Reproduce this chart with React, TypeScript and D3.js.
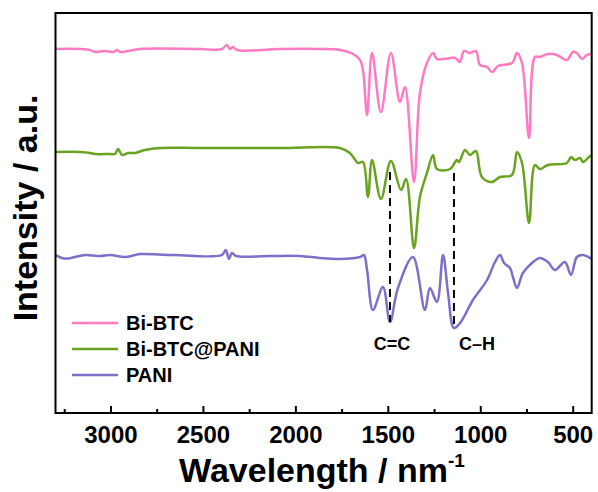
import React, { useEffect } from "react";
import * as d3 from "d3";

// wavenumber (cm-1), relative intensity (a.u.)
const biBtc: [number, number][] = [
  [3300, 91], [3167, 91], [3113, 90.75], [3086, 90.25], [3032, 90.5], [2989, 90.25], [2967, 90.75],
  [2951, 90.25], [2908, 90.5], [2843, 91], [2519, 91], [2400, 91], [2373, 92], [2356, 91], [2340, 91.5],
  [2318, 90.75], [2086, 91], [1870, 91], [1762, 90.75], [1691, 89.75], [1653, 88.25], [1637, 85.75],
  [1615, 74.5], [1588, 90], [1540, 75.25], [1486, 90], [1437, 77.75], [1410, 81.5], [1361, 57.75],
  [1329, 80], [1291, 87.5], [1258, 90], [1237, 88.5], [1204, 88.5], [1139, 88.75], [1112, 87.75],
  [1091, 90.5], [1058, 90], [1026, 90.5], [1004, 87], [966, 86.5], [939, 85.25], [907, 86.75],
  [831, 87.5], [804, 90], [777, 87.5], [739, 68.75], [707, 89], [680, 89], [637, 89.75], [588, 89.5],
  [534, 88.25], [502, 90.25], [480, 90], [453, 88.5], [426, 89.5], [400, 89.75],
];

const biBtcPani: [number, number][] = [
  [3300, 65.25], [3167, 65.25], [3113, 65], [3086, 64.75], [3005, 64.75], [2978, 64.75], [2962, 66],
  [2940, 64.5], [2908, 65], [2870, 65], [2816, 65.75], [2735, 66.25], [2519, 66.25], [2086, 66.25],
  [1762, 66.25], [1708, 65], [1663, 62.5], [1637, 62.75], [1610, 54], [1588, 63.25], [1540, 53.5],
  [1486, 63], [1431, 55.75], [1404, 58.5], [1361, 41.25], [1329, 54], [1291, 60], [1258, 64.5],
  [1237, 61], [1166, 61], [1129, 63.25], [1118, 62.75], [1085, 65.75], [1058, 64.5], [1026, 65.5],
  [994, 59], [939, 57.75], [896, 59], [831, 59.5], [804, 65.25], [777, 62.5], [739, 47.5], [707, 62],
  [680, 61], [637, 62], [534, 62.5], [512, 64], [491, 63.25], [463, 63.75], [447, 62.75], [409, 64.25],
  [400, 64.5],
];

const pani: [number, number][] = [
  [3300, 39.5], [3265, 38.75], [3238, 38.6], [3195, 39], [3140, 39.5], [3059, 39.25], [3005, 39.5],
  [2924, 39], [2870, 39.5], [2843, 39.75], [2654, 39.5], [2400, 39.5], [2379, 40.75], [2362, 38.5],
  [2346, 40], [2324, 39.25], [2140, 39.25], [1978, 39.25], [1870, 38.75], [1762, 38.5], [1653, 39],
  [1632, 39.5], [1615, 35.75], [1583, 25.75], [1529, 31.5], [1491, 22.75], [1448, 31.25], [1367, 39],
  [1302, 25.75], [1275, 31.25], [1237, 27.75], [1204, 39.5], [1177, 30], [1145, 21.25], [1112, 22.5],
  [1042, 28.25], [966, 33.25], [923, 37.75], [896, 39.5], [874, 37.5], [842, 36.25], [826, 34],
  [804, 31.25], [772, 35], [723, 37.5], [680, 38.75], [637, 37.75], [599, 35.75], [545, 37.75],
  [512, 34.5], [480, 39], [447, 39.5], [400, 38.5],
];

const seriesNames = ["Bi-BTC", "Bi-BTC@PANI", "PANI"];
const seriesColors = ["#ff7ac3", "#6aa320", "#7d70c8"];
const seriesData = [biBtc, biBtcPani, pani];

const majorTicks = [3000, 2500, 2000, 1500, 1000, 500];
const minorTicks = [3250, 2750, 2250, 1750, 1250, 750];

// dashed guide lines: [wavenumber, top value, bottom value]
const guides: [number, number, number][] = [
  [1491, 60.25, 22.75],
  [1145, 60, 21.25],
];
// band labels: [text, wavenumber of centre, value]
const bandLabels: [string, number, number][] = [
  ["C=C", 1480, 15.75],
  ["C\u2013H", 1020, 15.75],
];

const W = 598;
const H = 492;
const L = 55.5, R = 591.7, T = 13, B = 413;

export default function App() {
  useEffect(() => {
    document.body.style.margin = "0";
  }, []);

  const x = d3.scaleLinear().domain([3300, 400]).range([L, R]);
  const y = d3.scaleLinear().domain([0, 100]).range([B, T]);
  const line = d3
    .line<[number, number]>()
    .x((d) => x(d[0]))
    .y((d) => y(d[1]))
    .curve(d3.curveCatmullRom.alpha(0.5));

  const font = "'Liberation Sans', Arial, sans-serif";

  return (
    <svg width={W} height={H} style={{ position: "absolute", left: 0, top: 0, background: "#fff" }}
      fontFamily={font} fontWeight="bold">
      <defs>
        <clipPath id="plot">
          <rect x={L} y={T} width={R - L} height={B - T} />
        </clipPath>
      </defs>
      <g clipPath="url(#plot)">
        {seriesData.map((s, i) => (
          <path key={i} d={line(s) || ""} fill="none" stroke={seriesColors[i]} strokeWidth={2.5}
            strokeLinejoin="round" strokeLinecap="round" />
        ))}
      </g>
      {guides.map((g, i) => (
        <line key={i} x1={x(g[0])} x2={x(g[0])} y1={y(g[1])} y2={y(g[2])} stroke="#000"
          strokeWidth={2} strokeDasharray="8,5" />
      ))}
      {bandLabels.map((b, i) => (
        <text key={i} x={x(b[1])} y={y(b[2])} textAnchor="middle" fontSize={18}>{b[0]}</text>
      ))}
      <rect x={L} y={T} width={R - L} height={B - T} fill="none" stroke="#000" strokeWidth={2} />
      {majorTicks.map((t) => (
        <g key={t}>
          <line x1={x(t)} x2={x(t)} y1={B} y2={B - 7} stroke="#000" strokeWidth={2} />
          <text x={x(t)} y={443} textAnchor="middle" fontSize={24}>{t}</text>
        </g>
      ))}
      {minorTicks.map((t) => (
        <line key={t} x1={x(t)} x2={x(t)} y1={B} y2={B - 4} stroke="#000" strokeWidth={2} />
      ))}
      <text x={322} y={482} textAnchor="middle" fontSize={34}>
        Wavelength / nm<tspan fontSize={19} dy={-15}>-1</tspan>
      </text>
      <text transform="translate(37,208) rotate(-90)" textAnchor="middle" fontSize={34}>
        Intensity / a.u.
      </text>
      {seriesNames.map((n, i) => (
        <g key={n}>
          <line x1={72} x2={118} y1={323 + i * 26} y2={323 + i * 26} stroke={seriesColors[i]} strokeWidth={2.5} />
          <text x={126} y={330 + i * 26} fontSize={20}>{n}</text>
        </g>
      ))}
    </svg>
  );
}
